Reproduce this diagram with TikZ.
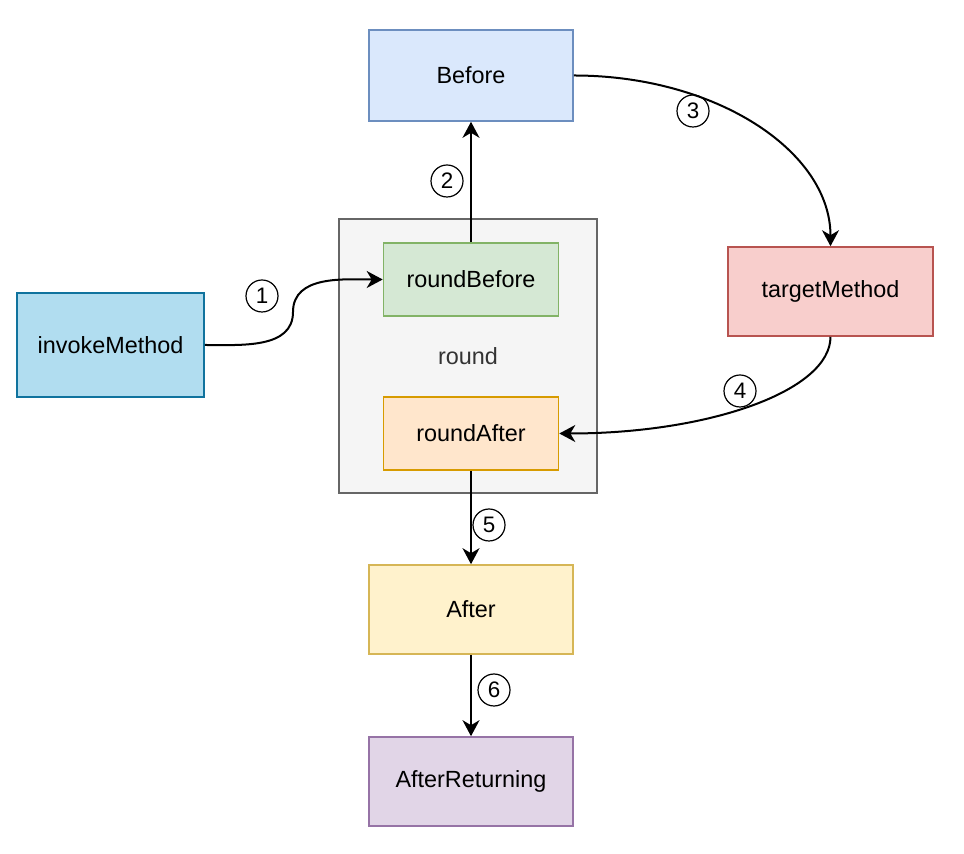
\documentclass[tikz,border=0pt]{standalone}
\usepackage{fontspec}
\setmainfont{Liberation Sans}
\usepackage{tikz}
\usetikzlibrary{arrows.meta}
\usepackage{xcolor}
\definecolor{befFill}{HTML}{DAE8FC}\definecolor{befLine}{HTML}{6C8EBF}
\definecolor{rbFill}{HTML}{D5E8D4}\definecolor{rbLine}{HTML}{82B366}
\definecolor{raFill}{HTML}{FFE6CC}\definecolor{raLine}{HTML}{D79B00}
\definecolor{tmFill}{HTML}{F8CECC}\definecolor{tmLine}{HTML}{B85450}
\definecolor{aftFill}{HTML}{FFF2CC}\definecolor{aftLine}{HTML}{D6B656}
\definecolor{arFill}{HTML}{E1D5E7}\definecolor{arLine}{HTML}{9673A6}
\definecolor{invFill}{HTML}{B1DDF0}\definecolor{invLine}{HTML}{10739E}
\definecolor{rndFill}{HTML}{F5F5F5}\definecolor{rndLine}{HTML}{666666}

\tikzset{
  box/.style={draw,line width=0.8pt,inner sep=0pt,font=\fontsize{11.7}{14}\selectfont},
  num/.style={circle,draw,line width=0.6pt,minimum size=16pt,inner sep=0pt,font=\fontsize{11.2}{12}\selectfont},
  flow/.style={-{Stealth[length=8pt,width=8.5pt,inset=2.5pt]},line width=1pt}
}

\begin{document}
\begin{tikzpicture}[x=0.5pt,y=-0.5pt]
  \useasboundingbox (0,0) rectangle (964,854);
  % container
  \node[box,draw=rndLine,fill=rndFill,text=black!80,minimum width=129pt,minimum height=137pt] (rnd) at (468,356){round};
  % boxes
  \node[box,draw=befLine,fill=befFill,minimum width=102pt,minimum height=45.5pt] (bef) at (471,75.5){Before};
  \node[box,draw=rbLine,fill=rbFill,minimum width=87.5pt,minimum height=36.5pt] (rb) at (471,279.5){roundBefore};
  \node[box,draw=raLine,fill=raFill,minimum width=87.5pt,minimum height=36.5pt] (ra) at (471,433.5){roundAfter};
  \node[box,draw=invLine,fill=invFill,minimum width=93.5pt,minimum height=52pt] (inv) at (110.5,345){invokeMethod};
  \node[box,draw=tmLine,fill=tmFill,minimum width=102.5pt,minimum height=44.5pt] (tm) at (830.5,291.5){targetMethod};
  \node[box,draw=aftLine,fill=aftFill,minimum width=102pt,minimum height=44.5pt] (aft) at (471,609.5){After};
  \node[box,draw=arLine,fill=arFill,minimum width=102pt,minimum height=44.5pt] (ar) at (471,781.5){AfterReturning};
  % connectors
  \coordinate (bend1) at (293,312);
  \draw[flow] (inv.east) to[out=0,in=-90] (bend1) to[out=90,in=180] (rb.west);
  \draw[flow] (rb.north) -- (bef.south);
  \draw[flow] (bef.east) .. controls +(142,0) and +(0,-95) .. (tm.north);
  \draw[flow] (tm.south) .. controls +(0,54) and +(150,0) .. (ra.east);
  \draw[flow] (ra.south) -- (aft.north);
  \draw[flow] (aft.south) -- (ar.north);
  % step numbers
  \node[num] (n1) at (262,296){1};
  \node[num] (n2) at (447,181){2};
  \node[num] (n3) at (693,111){3};
  \node[num] (n4) at (740,391){4};
  \node[num] (n5) at (489,525){5};
  \node[num] (n6) at (494,690){6};
\end{tikzpicture}
\end{document}
